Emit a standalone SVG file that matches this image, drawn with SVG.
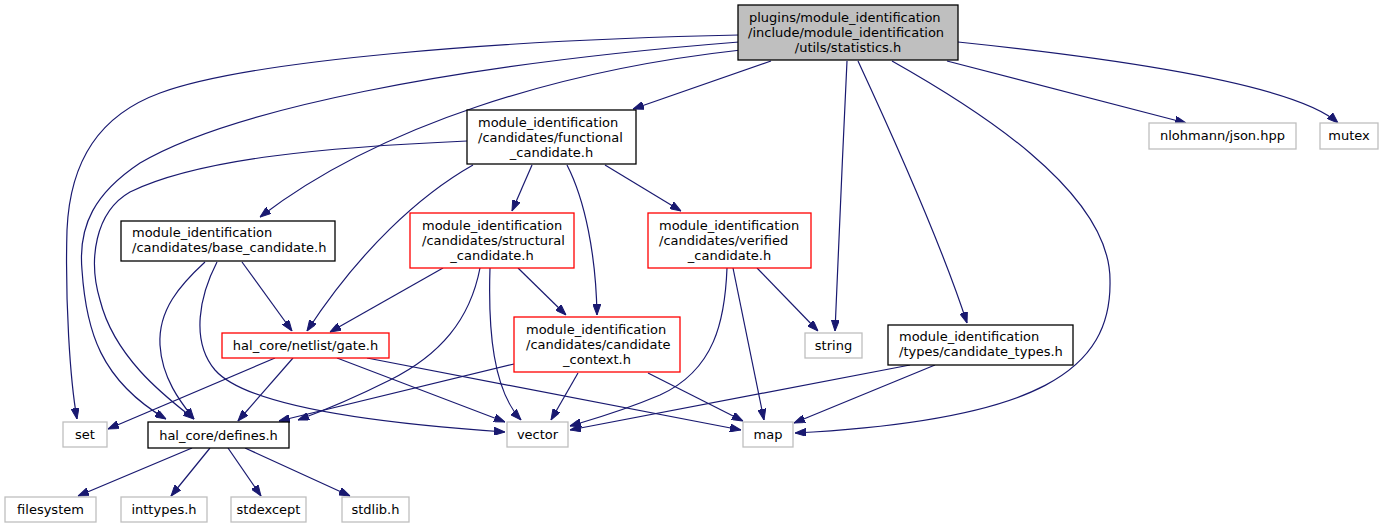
<svg xmlns="http://www.w3.org/2000/svg" width="1389" height="528" viewBox="0 0 1389 528">
<style>
text{font-family:"DejaVu Sans","Liberation Sans",sans-serif;font-size:13px;fill:#000}
.m{text-anchor:middle}
.bk{fill:#fff;stroke:#000;stroke-width:1.3}
.rd{fill:#fff;stroke:#ff0000;stroke-width:1.3}
.gy{fill:#fff;stroke:#bfbfbf;stroke-width:1.3}
.mn{fill:#bfbfbf;stroke:#000;stroke-width:1.3}
.e path{fill:none;stroke:#191970;stroke-width:1.2;marker-end:url(#ah)}
</style>
<defs>
<marker id="ah" markerUnits="userSpaceOnUse" markerWidth="11" markerHeight="8" viewBox="0 0 11 8" refX="11" refY="4" orient="auto">
<path d="M0,0 L11,4 L0,8 z" fill="#191970" stroke="#191970" stroke-width="1"/>
</marker>
</defs>
<rect width="1389" height="528" fill="#fff"/>
<g class="e" id="edges">
<path d="M739,35 C 500,40 250,60 160,93 C 100,115 70,160 67,230 C 65,300 70,380 77,419"/>
<path d="M739,42 C 450,65 230,110 140,163 C 95,193 78,225 82,270 C 86,330 100,380 166,419"/>
<path d="M741,50 C 560,70 380,125 260,217"/>
<path d="M771,61 L 633,109"/>
<path d="M847,61 C 843,150 838,250 835,331"/>
<path d="M858,61 C 890,130 940,240 967,323"/>
<path d="M892,61 C 970,105 1110,190 1110,280 C 1112,370 1040,420 795,433"/>
<path d="M947,61 L 1186,123"/>
<path d="M958,42 C 1150,62 1300,88 1338,123"/>
<path d="M467,141 C 330,147 200,158 130,192 C 95,212 88,260 100,300 C 115,360 170,400 194,419"/>
<path d="M473,165 C 420,195 360,250 307,331"/>
<path d="M532,165 L 512,211"/>
<path d="M567,165 C 585,200 596,255 597,315"/>
<path d="M605,165 L 681,211"/>
<path d="M205,262 C 180,285 158,310 160,345 C 162,380 183,405 194,419"/>
<path d="M217,262 C 200,295 190,340 215,370 C 250,410 400,425 505,432"/>
<path d="M242,262 L 292,331"/>
<path d="M443,268 L 330,332"/>
<path d="M480,268 C 470,320 440,355 390,380 C 350,400 320,412 298,420"/>
<path d="M490,268 C 488,330 493,390 521,420"/>
<path d="M518,268 L 566,315"/>
<path d="M757,268 L 818,331"/>
<path d="M727,268 C 725,320 715,370 660,395 C 620,412 590,420 570,426"/>
<path d="M733,268 L 764,420"/>
<path d="M514,364 L 279,421"/>
<path d="M578,373 L 551,420"/>
<path d="M648,373 L 743,421"/>
<path d="M910,365 L 570,430"/>
<path d="M935,365 L 794,423"/>
<path d="M275,358 L 108,429"/>
<path d="M293,358 L 238,421"/>
<path d="M337,358 L 505,422"/>
<path d="M367,358 L 741,430"/>
<path d="M192,448 L 78,496"/>
<path d="M210,448 L 171,496"/>
<path d="M228,448 L 261,496"/>
<path d="M245,448 L 350,496"/>
</g>
<g id="n_main"><rect class="mn" x="738" y="5" width="220" height="55"/><text x="749" y="21.5">plugins/module_identification</text><text x="748" y="36.5">/include/module_identification</text><text class="m" x="848" y="51.5">/utils/statistics.h</text></g>
<g id="n_functional"><rect class="bk" x="467" y="110" width="169" height="54"/><text x="478" y="126.5">module_identification</text><text x="478" y="141.5">/candidates/functional</text><text class="m" x="551.5" y="156.5">_candidate.h</text></g>
<g id="n_base"><rect class="bk" x="121" y="221" width="214" height="40"/><text x="132" y="236.5">module_identification</text><text x="132" y="251.5">/candidates/base_candidate.h</text></g>
<g id="n_structural"><rect class="rd" x="410" y="213" width="164" height="55"/><text x="422" y="230">module_identification</text><text x="422" y="245">/candidates/structural</text><text class="m" x="492" y="260">_candidate.h</text></g>
<g id="n_verified"><rect class="rd" x="648" y="213" width="163" height="55"/><text x="659" y="230">module_identification</text><text x="659" y="245">/candidates/verified</text><text class="m" x="729.5" y="260">_candidate.h</text></g>
<g id="n_context"><rect class="rd" x="514" y="317" width="166" height="55"/><text x="526" y="334">module_identification</text><text x="526" y="349">/candidates/candidate</text><text class="m" x="597" y="364">_context.h</text></g>
<g id="n_types"><rect class="bk" x="888" y="325" width="185" height="40"/><text x="899" y="340.5">module_identification</text><text x="899" y="355.5">/types/candidate_types.h</text></g>
<g id="n_gate"><rect class="rd" x="222" y="333" width="167" height="25"/><text class="m" x="305.5" y="350">hal_core/netlist/gate.h</text></g>
<g id="n_defines"><rect class="bk" x="148" y="422" width="141" height="26"/><text class="m" x="218.5" y="439.5">hal_core/defines.h</text></g>
<g id="n_set"><rect class="gy" x="63" y="422" width="44" height="25"/><text class="m" x="85" y="439">set</text></g>
<g id="n_vector"><rect class="gy" x="507" y="422" width="61" height="25"/><text class="m" x="537.5" y="439">vector</text></g>
<g id="n_map"><rect class="gy" x="743" y="422" width="50" height="25"/><text class="m" x="768" y="439">map</text></g>
<g id="n_string"><rect class="gy" x="805" y="333" width="57" height="25"/><text class="m" x="833.5" y="350">string</text></g>
<g id="n_json"><rect class="gy" x="1149" y="123" width="147" height="26"/><text class="m" x="1222.5" y="140">nlohmann/json.hpp</text></g>
<g id="n_mutex"><rect class="gy" x="1320" y="123" width="58" height="26"/><text class="m" x="1349" y="140">mutex</text></g>
<g id="n_filesystem"><rect class="gy" x="5" y="497" width="91" height="25"/><text class="m" x="50.5" y="514">filesystem</text></g>
<g id="n_inttypes"><rect class="gy" x="121" y="497" width="86" height="25"/><text class="m" x="164" y="514">inttypes.h</text></g>
<g id="n_stdexcept"><rect class="gy" x="231" y="497" width="75" height="25"/><text class="m" x="268.5" y="514">stdexcept</text></g>
<g id="n_stdlib"><rect class="gy" x="342" y="497" width="67" height="25"/><text class="m" x="375.5" y="514">stdlib.h</text></g>
</svg>
